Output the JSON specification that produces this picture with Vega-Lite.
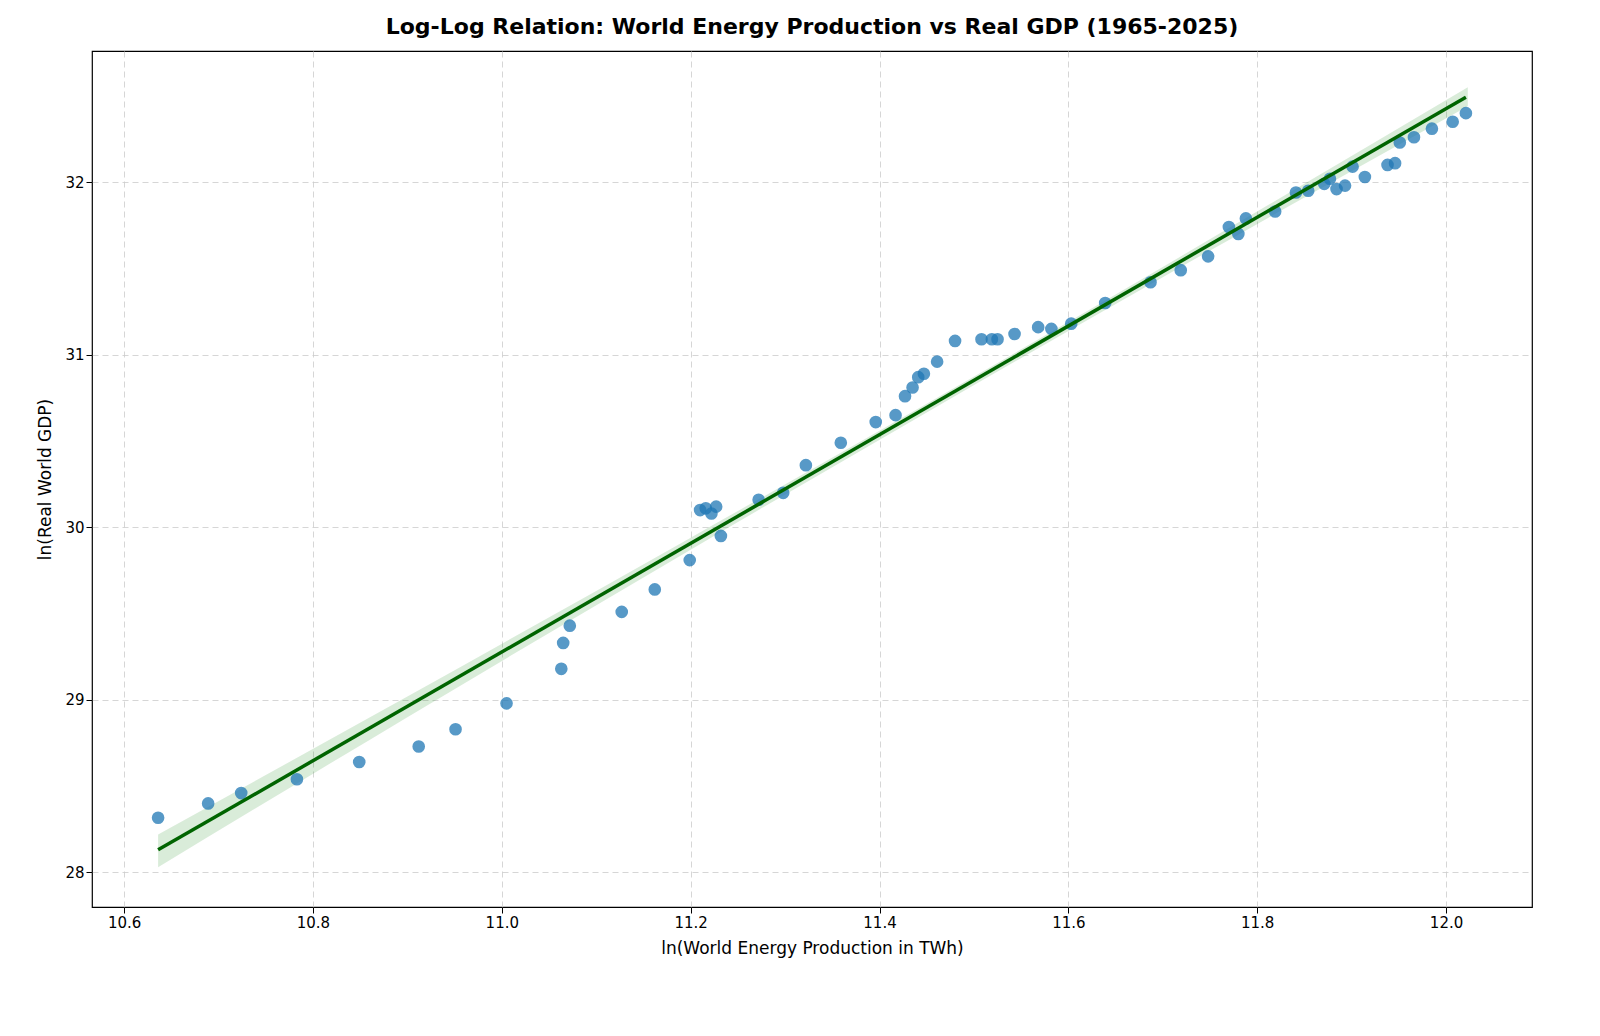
{
  "$schema": "https://vega.github.io/schema/vega-lite/v6.json",
  "width": 1440,
  "height": 856,
  "padding": {"left": 36, "top": 16, "right": 40, "bottom": 10},
  "background": "white",
  "title": {"text": "Log-Log Relation: World Energy Production vs Real GDP (1965-2025)", "fontSize": 22, "fontWeight": "bold", "font": "DejaVu Sans", "color": "black", "offset": 12},
  "datasets": {
    "pts": [
      {"x": 10.636, "y": 28.317}, {"x": 10.689, "y": 28.40}, {"x": 10.724, "y": 28.46}, {"x": 10.783, "y": 28.54},
      {"x": 10.849, "y": 28.64}, {"x": 10.912, "y": 28.73}, {"x": 10.951, "y": 28.83}, {"x": 11.005, "y": 28.98},
      {"x": 11.063, "y": 29.18}, {"x": 11.065, "y": 29.33}, {"x": 11.072, "y": 29.43}, {"x": 11.127, "y": 29.51},
      {"x": 11.162, "y": 29.64}, {"x": 11.199, "y": 29.81}, {"x": 11.210, "y": 30.10}, {"x": 11.216, "y": 30.11},
      {"x": 11.222, "y": 30.08}, {"x": 11.227, "y": 30.12}, {"x": 11.232, "y": 29.95}, {"x": 11.272, "y": 30.16},
      {"x": 11.298, "y": 30.20}, {"x": 11.322, "y": 30.36}, {"x": 11.359, "y": 30.49}, {"x": 11.396, "y": 30.61},
      {"x": 11.417, "y": 30.65}, {"x": 11.427, "y": 30.76}, {"x": 11.435, "y": 30.81}, {"x": 11.441, "y": 30.87},
      {"x": 11.447, "y": 30.89}, {"x": 11.461, "y": 30.96}, {"x": 11.480, "y": 31.08}, {"x": 11.508, "y": 31.09},
      {"x": 11.519, "y": 31.09}, {"x": 11.525, "y": 31.09}, {"x": 11.543, "y": 31.12}, {"x": 11.568, "y": 31.16},
      {"x": 11.582, "y": 31.15}, {"x": 11.603, "y": 31.18}, {"x": 11.639, "y": 31.30}, {"x": 11.687, "y": 31.42},
      {"x": 11.719, "y": 31.49}, {"x": 11.748, "y": 31.57}, {"x": 11.770, "y": 31.74}, {"x": 11.780, "y": 31.70},
      {"x": 11.788, "y": 31.79}, {"x": 11.819, "y": 31.83}, {"x": 11.841, "y": 31.94}, {"x": 11.854, "y": 31.95},
      {"x": 11.871, "y": 31.99}, {"x": 11.877, "y": 32.02}, {"x": 11.884, "y": 31.96}, {"x": 11.893, "y": 31.98},
      {"x": 11.901, "y": 32.09}, {"x": 11.914, "y": 32.03}, {"x": 11.938, "y": 32.10}, {"x": 11.946, "y": 32.11},
      {"x": 11.951, "y": 32.23}, {"x": 11.966, "y": 32.26}, {"x": 11.985, "y": 32.31}, {"x": 12.007, "y": 32.35},
      {"x": 12.021, "y": 32.40}
    ],
    "band": [
      {"x": 10.636, "lo": 28.03, "hi": 28.22},
      {"x": 10.9, "lo": 28.90, "hi": 29.02},
      {"x": 11.2, "lo": 29.87, "hi": 29.94},
      {"x": 11.45, "lo": 30.666, "hi": 30.716},
      {"x": 11.7, "lo": 31.449, "hi": 31.509},
      {"x": 12.023, "lo": 32.44, "hi": 32.55}
    ]
  },
  "layer": [
    {
      "data": {"name": "band"},
      "mark": {"type": "area", "color": "green", "opacity": 0.15, "interpolate": "monotone"},
      "encoding": {
        "x": {"field": "x", "type": "quantitative"},
        "y": {"field": "lo", "type": "quantitative"},
        "y2": {"field": "hi"}
      }
    },
    {
      "data": {"name": "pts"},
      "mark": {"type": "circle", "size": 160, "color": "#1f77b4", "opacity": 0.75},
      "encoding": {
        "x": {"field": "x", "type": "quantitative"},
        "y": {"field": "y", "type": "quantitative"}
      }
    },
    {
      "data": {"name": "pts"},
      "transform": [{"regression": "y", "on": "x"}],
      "mark": {"type": "line", "color": "darkgreen", "strokeWidth": 3.5},
      "encoding": {
        "x": {"field": "x", "type": "quantitative"},
        "y": {"field": "y", "type": "quantitative"}
      }
    }
  ],
  "encoding": {
    "x": {"field": "x", "type": "quantitative", "title": "ln(World Energy Production in TWh)",
      "scale": {"domain": [10.566, 12.091], "nice": false, "zero": false},
      "axis": {"values": [10.6, 10.8, 11.0, 11.2, 11.4, 11.6, 11.8, 12.0], "format": ".1f"}},
    "y": {"field": "y", "type": "quantitative", "title": "ln(Real World GDP)",
      "scale": {"domain": [27.80, 32.76], "nice": false, "zero": false},
      "axis": {"values": [28, 29, 30, 31, 32], "format": "d"}}
  },
  "config": {
    "view": {"stroke": "black", "strokeWidth": 1.2},
    "axis": {
      "labelFont": "DejaVu Sans", "titleFont": "DejaVu Sans", "labelFontSize": 15, "titleFontSize": 17,
      "titleFontWeight": "normal", "labelColor": "black", "titleColor": "black",
      "grid": true, "gridDash": [6, 4], "gridColor": "#cccccc", "gridOpacity": 0.8,
      "domain": false, "tickColor": "black", "tickSize": 6, "titlePadding": 10
    }
  }
}
